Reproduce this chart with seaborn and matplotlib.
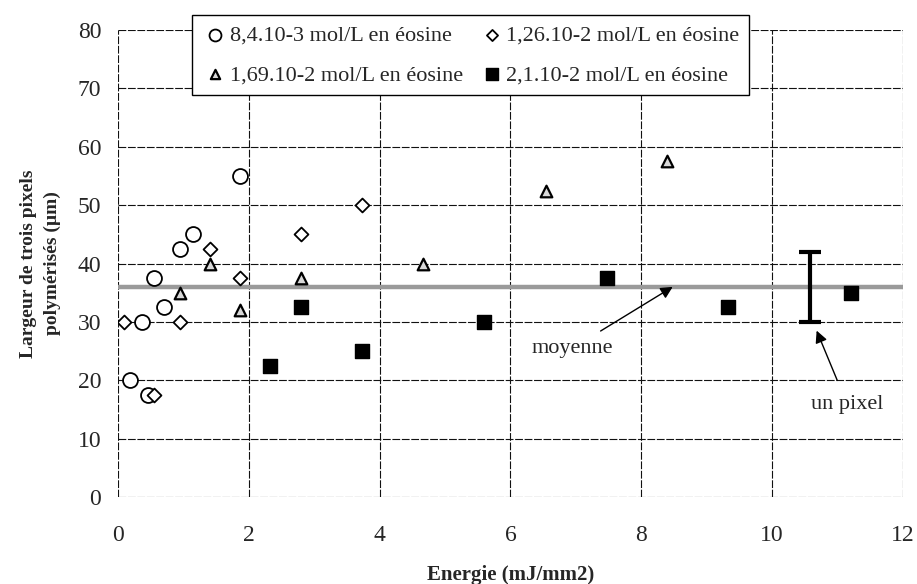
import matplotlib
matplotlib.use("Agg")
import matplotlib.pyplot as plt
import seaborn as sns
import numpy as np

# data
circle_x = [0.19, 0.37, 0.46, 0.55, 0.70, 0.94, 1.15, 1.87]
circle_y = [20, 30, 17.5, 37.5, 32.5, 42.5, 45, 55]
diamond_x = [0.09, 0.55, 0.94, 1.40, 1.87, 2.80, 3.73]
diamond_y = [30, 17.5, 30, 42.5, 37.5, 45, 50]
triangle_x = [0.94, 1.40, 1.87, 2.80, 4.66, 6.54, 8.40]
triangle_y = [35, 40, 32, 37.5, 40, 52.5, 57.5]
square_x = [2.32, 2.80, 3.73, 5.60, 7.47, 9.33, 11.20]
square_y = [22.5, 32.5, 25, 30, 37.5, 32.5, 35]

labels = ["8,4.10-3 mol/L en éosine", "1,26.10-2 mol/L en éosine",
          "1,69.10-2 mol/L en éosine", "2,1.10-2 mol/L en éosine"]
mean_y = 36.0
pixel_x = 10.58
pixel_err = 6.0

sns.set_style("white")
plt.rcParams['font.family'] = ['Liberation Serif', 'DejaVu Serif']

fig = plt.figure(figsize=(9.17, 5.84), dpi=100)
ax = fig.add_axes([0.1287, 0.149, 0.856, 0.7996])

# mean line drawn first so markers sit on top
ax.axhline(mean_y, color='#9a9a9a', lw=3.2, zorder=2)

sns.scatterplot(x=circle_x, y=circle_y, marker='o', s=115, facecolor='white',
                edgecolor='black', linewidth=1.3, ax=ax, label=labels[0], zorder=4)
sns.scatterplot(x=triangle_x, y=triangle_y, marker='^', s=70, facecolor='#d8d8d8',
                edgecolor='black', linewidth=1.6, ax=ax, label=labels[2], zorder=4)
sns.scatterplot(x=diamond_x, y=diamond_y, marker='D', s=50, facecolor='white',
                edgecolor='black', linewidth=1.3, ax=ax, label=labels[1], zorder=4)
sns.scatterplot(x=square_x, y=square_y, marker='s', s=110, facecolor='black',
                edgecolor='black', linewidth=1, ax=ax, label=labels[3], zorder=4)

ax.errorbar([pixel_x], [mean_y], yerr=pixel_err, fmt='none', ecolor='black',
            elinewidth=3, capsize=8, capthick=3, zorder=5)

ax.set_xlim(0, 12)
ax.set_ylim(0, 80)
ax.set_xticks(np.arange(0, 13, 2))
ax.set_yticks(np.arange(0, 81, 10))
ax.grid(True, color='#111111', lw=0.8, linestyle=(0, (7, 1.5)))
ax.set_axisbelow(True)
for sp in ax.spines.values():
    sp.set_visible(False)
ax.tick_params(axis='both', which='both', length=6, width=0.8, color='#222222',
               labelsize=17, direction='out', pad=6)
ax.tick_params(axis='x', pad=14)

ax.set_xlabel("Energie (mJ/mm2)", fontsize=15, fontweight='bold', labelpad=14)
ax.set_ylabel("Largeur de trois pixels\npolymérisés (µm)", fontsize=14,
              fontweight='bold', labelpad=12, linespacing=1.5)

ax.annotate("moyenne", xy=(8.48, mean_y), xytext=(6.95, 25.5), fontsize=16,
            ha='center', va='center',
            arrowprops=dict(arrowstyle='-|>', color='black', lw=1,
                            shrinkA=6, shrinkB=0, mutation_scale=18))
ax.annotate("un pixel", xy=(10.68, 28.5), xytext=(11.15, 15.8), fontsize=16,
            ha='center', va='center',
            arrowprops=dict(arrowstyle='-|>', color='black', lw=1,
                            shrinkA=9, shrinkB=0, mutation_scale=18))

leg = ax.legend(ncol=2, loc='upper left', bbox_to_anchor=(0.2094, 0.974),
                bbox_transform=fig.transFigure, fontsize=16, frameon=True,
                fancybox=False, edgecolor='black', framealpha=1,
                handletextpad=0.05, columnspacing=0.7, borderpad=0.45,
                labelspacing=0.85, handlelength=1.2, markerscale=0.8,
                borderaxespad=0)
leg.get_frame().set_linewidth(1.0)
leg.set_zorder(10)

fig.savefig("out.png", dpi=100)
